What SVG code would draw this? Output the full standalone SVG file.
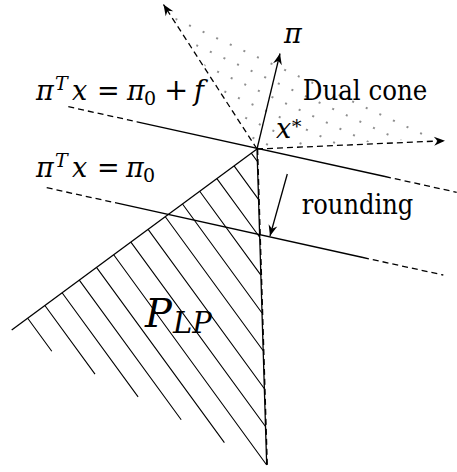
<svg xmlns="http://www.w3.org/2000/svg" width="457" height="472" viewBox="0 0 457 472">
<style>
.ln{stroke:#000;stroke-width:1.3;fill:none;stroke-linecap:butt}
.ds{stroke:#000;stroke-width:1.3;fill:none;stroke-dasharray:6 4}
.ht{stroke:#000;stroke-width:1.1;fill:none}
text{font-family:'DejaVu Serif','Liberation Serif','Noto Serif',serif;font-size:27px;fill:#000}
.i{font-style:italic}
.s{font-size:19px}
.big{font-size:40px}
.sub{font-size:29px}
.pl{font-size:29px}
</style>
<defs>
<marker id="ah" viewBox="-12 -6 13 12" refX="0" refY="0" markerWidth="13" markerHeight="12" markerUnits="userSpaceOnUse" orient="auto">
<path d="M0,0 L-11,-4.5 L-7.5,0 L-11,4.5 Z" fill="#000"/>
</marker>
<pattern id="dots" width="15" height="15" patternUnits="userSpaceOnUse" patternTransform="rotate(25)">
<circle cx="3" cy="3" r="0.8" fill="#000"/>
</pattern>
<clipPath id="coneclip"><polygon points="257,149 168,8 440,138"/></clipPath>
</defs>
<rect width="457" height="472" fill="#fff"/>

<g id="dual-cone-region">
<polygon points="257,149 168,8 440,138" fill="url(#dots)" clip-path="url(#coneclip)"/>
</g>

<g id="P_LP-region">
<path class="ht" d="M27.7,318.2 L51.8,351.2 M44.9,305.5 L95,374.1 M62.1,292.8 L138.1,396.9 M79.3,280.1 L181.2,419.8 M96.5,267.4 L224.4,442.6 M113.7,254.7 L266.7,465 M130.9,242.1 L265.5,426.5 M148.1,229.4 L264.4,388.7 M165.3,216.7 L263.2,350.8 M182.5,204 L262,313 M199.7,191.3 L260.9,275.1 M216.9,178.6 L259.7,237.3 M234.1,165.9 L258.5,199.4 M251.3,153.2 L257.4,161.5"/>
<line class="ln" x1="257" y1="149" x2="11.7" y2="330"/>
<line class="ln" x1="257" y1="149" x2="266.7" y2="465"/>
<line class="ds" x1="257.6" y1="149" x2="267.3" y2="465" stroke-width="0.9"/>
</g>

<g id="connectors">
<line class="ds" x1="68.3" y1="106.7" x2="137" y2="121.8"/>
<line class="ln" x1="137" y1="121.8" x2="385" y2="176.5"/>
<line class="ds" x1="385" y1="176.5" x2="456.7" y2="192.3"/>
<line class="ds" x1="46.7" y1="187.7" x2="115" y2="202.7"/>
<line class="ln" x1="115" y1="202.7" x2="363" y2="257.5"/>
<line class="ds" x1="363" y1="257.5" x2="443.3" y2="275"/>
<line class="ds" x1="257" y1="149" x2="163.5" y2="4.5" marker-end="url(#ah)"/>
<line class="ds" x1="257" y1="149" x2="445" y2="140.7" marker-end="url(#ah)"/>
<line class="ln" x1="257" y1="149" x2="280" y2="53.5" marker-end="url(#ah)"/>
<line class="ln" x1="287.3" y1="174" x2="270" y2="236" marker-end="url(#ah)"/>
</g>

<g id="label-cut1">
<text y="100"><tspan class="i" x="36">π</tspan><tspan class="i s" x="55" y="90">T</tspan><tspan class="i" x="72" y="100">x</tspan><tspan x="97">=</tspan><tspan class="i" x="127">π</tspan><tspan class="s" x="144" y="105">0</tspan><tspan class="pl" x="164" y="100">+</tspan><tspan class="i" x="194">f</tspan></text>
</g>
<g id="label-cut2">
<text y="177"><tspan class="i" x="36">π</tspan><tspan class="i s" x="55" y="167">T</tspan><tspan class="i" x="72" y="177">x</tspan><tspan x="97">=</tspan><tspan class="i" x="126">π</tspan><tspan class="s" x="143" y="182">0</tspan></text>
</g>
<g id="label-pi">
<text class="i" x="284" y="43">π</text>
</g>
<g id="label-xstar">
<text y="138"><tspan class="i" x="276">x</tspan><tspan class="s" x="292" y="133">*</tspan></text>
</g>
<g id="label-dualcone">
<text x="302.7" y="100" textLength="124.7" lengthAdjust="spacingAndGlyphs">Dual cone</text>
</g>
<g id="label-rounding">
<text x="301.7" y="214" textLength="111.6" lengthAdjust="spacingAndGlyphs">rounding</text>
</g>
<g id="label-PLP">
<text class="i big" x="145" y="327">P<tspan class="sub" x="173" y="333">LP</tspan></text>
</g>
</svg>
